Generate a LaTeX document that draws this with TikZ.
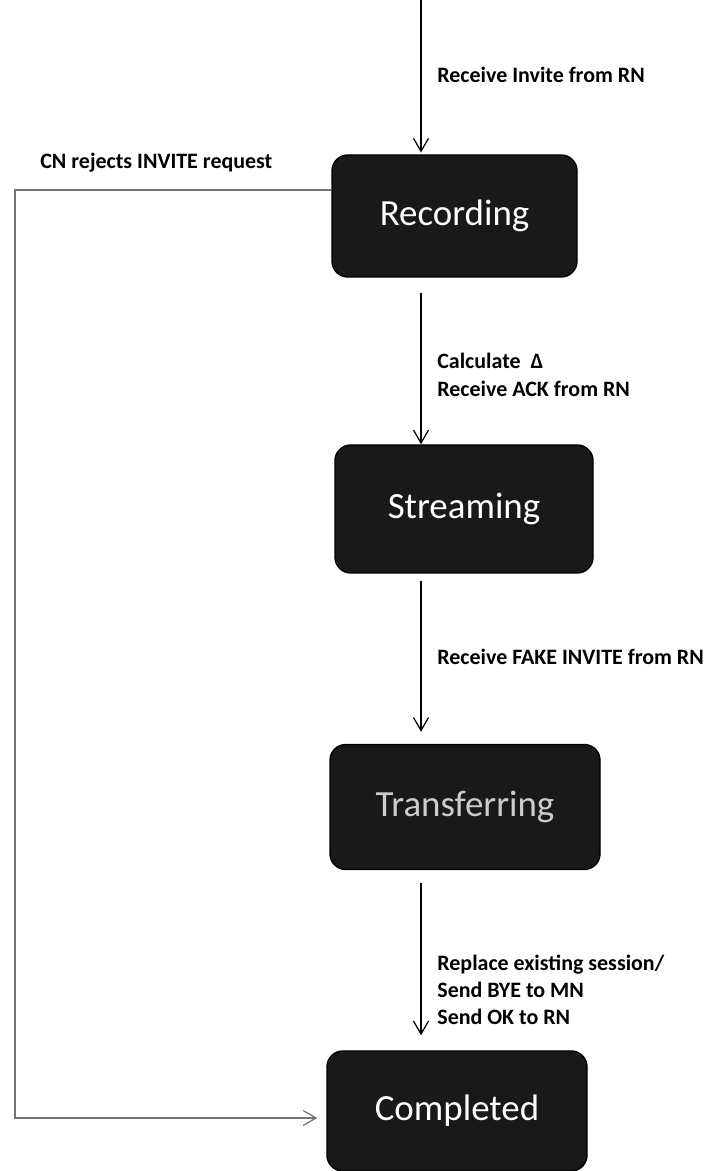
\documentclass[tikz,border=0pt]{standalone}
\usepackage{fontspec}
\setmainfont{Carlito}
\usepackage{tikz}
\usetikzlibrary{arrows.meta, positioning}

\begin{document}
\begin{tikzpicture}[
  every node/.style={font=\fontsize{12.5}{15}\selectfont\bfseries},
  state/.style  = {rectangle, draw=black, fill=black!90, text=white, rounded corners=9pt, line width=0.8pt, inner sep=0pt, font=\fontsize{21}{25}\selectfont},
  lbl/.style    = {anchor=west, align=left, inner sep=0pt, font=\fontsize{12.5}{15.5}\selectfont\bfseries},
  arrow/.style  = {-{Straight Barb[length=2.6mm, width=3mm, line width=0.7pt]}, line width=0.6pt},
  reject/.style = {arrow, draw=black!55, line width=1.1pt}
]
\useasboundingbox (0,0) rectangle (14.14,23.42);

%% STATES
\node[state, minimum width=4.9cm, minimum height=2.44cm] (rec)  at (9.09, 19.10) {Recording};
\node[state, minimum width=5.16cm, minimum height=2.56cm](str)  at (9.28, 13.24) {Streaming};
\node[state, minimum width=5.4cm, minimum height=2.5cm]  (tra)  at (9.30,  7.28) {\textcolor{black!20}{Transferring}};
\node[state, minimum width=5.2cm, minimum height=2.4cm]  (done) at (9.14,  1.20) {Completed};

%% arrow column and entry point
\coordinate (col)   at (8.42, 0);
\coordinate (start) at (8.42, 23.42);
\coordinate (lft)   at (0.30, 0);

%% LABELS
\node[lbl] (inv)  at (8.74, 21.92) {Receive Invite from RN};
\node[lbl] (rej)  at (0.80, 20.16) {CN rejects INVITE request};
\node[lbl] (ack)  at (8.74, 15.92) {Calculate \ Δ\\Receive ACK from RN};
\node[lbl] (fake) at (8.74, 10.28) {Receive FAKE INVITE from RN};
\node[lbl] (bye)  at (8.74,  3.62) {Replace existing session/\\Send BYE to MN\\Send OK to RN};

%% Arrows
\draw[arrow] (start) -- ([yshift=1pt]rec.north -| col);
\draw[arrow, shorten <=0.3cm] (rec.south -| col) -- (str.north -| col);
\draw[arrow, shorten <=0.14cm, shorten >=0.24cm] (str.south -| col) -- (tra.north -| col);
\draw[arrow, shorten <=0.26cm, shorten >=0.3cm] (tra.south -| col) -- (done.north -| col);
\draw[reject] ([yshift=0.52cm]rec.west) -- ([yshift=0.52cm]rec.west -| lft)
  |- ([yshift=-0.14cm, xshift=-0.18cm]done.west);
\end{tikzpicture}
\end{document}
